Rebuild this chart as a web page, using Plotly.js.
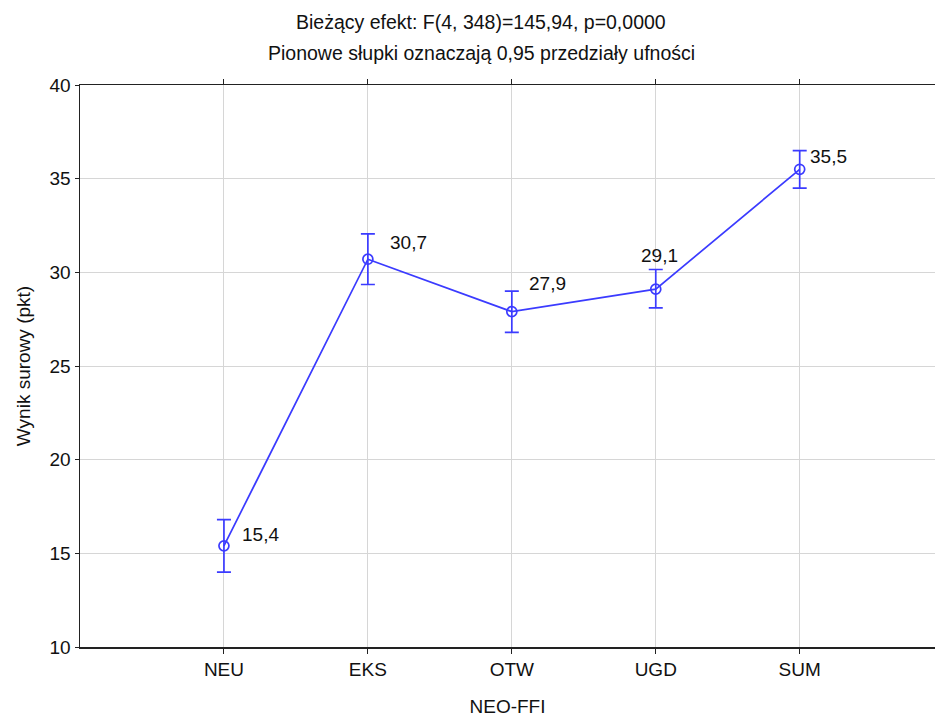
<!DOCTYPE html>
<html><head><meta charset="utf-8">
<script src="https://cdn.plot.ly/plotly-3.0.1.min.js"></script>
<style>body{margin:0;background:#fff}#c{width:935px;height:720px}</style>
</head><body><div id="c"></div>
<script>
const categories = ["NEU", "EKS", "OTW", "UGD", "SUM"];
const means = [15.4, 30.7, 27.9, 29.1, 35.5];
const ciPlus = [1.4, 1.35, 1.1, 1.05, 1.0];
const ciMinus = [1.4, 1.35, 1.1, 1.0, 1.0];
const labels = ["15,4", "30,7", "27,9", "29,1", "35,5"];
const labelShiftX = [37, 41, 36, 4, 29];
const labelShiftY = [11, 17, 28, 34, 13];
const titleLines = ["Bieżący efekt: F(4, 348)=145,94, p=0,0000", "Pionowe słupki oznaczają 0,95 przedziały ufności"];

const xIdx = categories.map((c, i) => i);
const blue = "#3b3bff";
const fam = "Liberation Sans, Arial, sans-serif";
const font = {family: fam, size: 19, color: "#111"};
const titleFont = {family: fam, size: 19.5, color: "#111"};

const trace = {
  type: "scatter", mode: "lines+markers",
  x: xIdx, y: means,
  line: {color: blue, width: 1.7},
  marker: {symbol: "circle-open", size: 10, color: blue, line: {width: 1.7, color: blue}},
  error_y: {type: "data", symmetric: false, array: ciPlus, arrayminus: ciMinus, color: blue, thickness: 1.7, width: 7},
  hoverinfo: "none"
};

const annotations = labels.map((t, i) => ({
  x: xIdx[i], y: means[i], xref: "x", yref: "y", text: t, showarrow: false,
  xshift: labelShiftX[i], yshift: labelShiftY[i], font: font
}));
const plotH = 720 - 85 - 73;
const titleX = (481 - 80) / 855;
annotations.push({x: titleX, y: (720 - 73 - 22) / plotH, xref: "paper", yref: "paper", yanchor: "middle",
  text: titleLines[0], showarrow: false, font: titleFont});
annotations.push({x: titleX, y: (720 - 73 - 53) / plotH, xref: "paper", yref: "paper", yanchor: "middle",
  text: titleLines[1], showarrow: false, font: titleFont});

const layout = {
  width: 935, height: 720,
  margin: {l: 80, r: 0, t: 85, b: 73},
  paper_bgcolor: "#fff", plot_bgcolor: "#fff",
  showlegend: false,
  font: font,
  xaxis: {
    range: [-1, 4.94], tickmode: "array", tickvals: xIdx, ticktext: categories,
    showgrid: true, gridcolor: "#d6d6d6", gridwidth: 1,
    showline: true, linecolor: "#222", linewidth: 1.5, mirror: "ticks",
    ticks: "outside", ticklen: 5, tickcolor: "#222", zeroline: false,
    tickfont: font,
    title: {text: "NEO-FFI", font: font, standoff: 20}
  },
  yaxis: {
    range: [10, 40], dtick: 5, tick0: 10,
    showgrid: true, gridcolor: "#d6d6d6", gridwidth: 1,
    showline: true, linecolor: "#222", linewidth: 1.5, mirror: "ticks",
    ticks: "outside", ticklen: 4, tickcolor: "#222", zeroline: false,
    tickfont: font,
    title: {text: "Wynik surowy (pkt)", font: font, standoff: 14}
  },
  annotations: annotations
};
Plotly.newPlot("c", [trace], layout, {displayModeBar: false, staticPlot: true});
</script></body></html>
